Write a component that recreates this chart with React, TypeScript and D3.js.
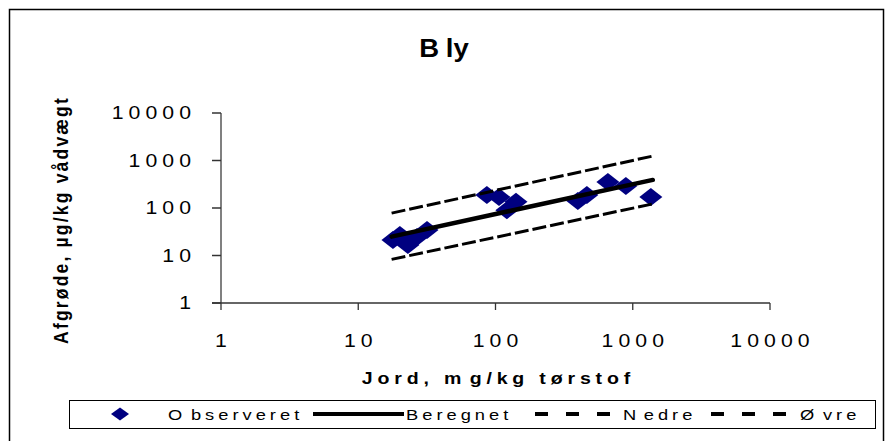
import React from "react";
import * as d3 from "d3";

// Observed lead concentrations: soil (mg/kg dry matter) vs. crop (µg/kg fresh weight)
const soilObserved = [17.9, 20.1, 23, 26.8, 31.7, 86.5, 106, 121, 141, 398, 463, 659, 891, 1355];
const cropObserved = [21.2, 27, 16.6, 24.5, 34.4, 188, 170, 90, 136, 140, 188, 353, 290, 170];

// Fitted relation and its lower/upper bounds
const soilFit = [17.5, 1400];
const cropCalculated = [25, 390];
const cropLower = [8.3, 122];
const cropUpper = [78, 1240];

const xTicks = [1, 10, 100, 1000, 10000];
const yTicks = [1, 10, 100, 1000, 10000];

const W = 893;
const H = 441;
const FONT = "'Liberation Sans', Arial, sans-serif";
const NAVY = "#000080";

type STextProps = {
  x: number;
  y: number;
  sx?: number;
  size: number;
  ls?: number;
  bold?: boolean;
  anchor?: "start" | "middle" | "end";
  dy?: string;
  children: React.ReactNode;
};

// Horizontally widened text, as the chart's lettering is drawn slightly stretched
function SText({ x, y, sx = 1.18, size, ls = 0, bold, anchor = "start", dy, children }: STextProps) {
  const shift = anchor === "middle" ? ls / 2 : anchor === "end" ? ls : 0;
  return (
    <text
      transform={`translate(${x},${y}) scale(${sx},1)`}
      x={shift}
      dy={dy}
      textAnchor={anchor}
      fontSize={size}
      fontWeight={bold ? "bold" : "normal"}
      style={{ letterSpacing: ls }}
    >
      {children}
    </text>
  );
}

export default function App() {
  const x = d3.scaleLog().domain([1, 10000]).range([221, 770]);
  const y = d3.scaleLog().domain([1, 10000]).range([303, 113]);

  const line = d3
    .line<[number, number]>()
    .x((d) => x(d[0]))
    .y((d) => y(d[1]));

  const pairs = (ys: number[]) => soilFit.map((v, i) => [v, ys[i]] as [number, number]);

  const diamond = (cx: number, cy: number, hw: number, hh: number) =>
    `M${cx},${cy - hh}L${cx + hw},${cy}L${cx},${cy + hh}L${cx - hw},${cy}Z`;

  const legendY = 414;
  const fmt = d3.format("d");

  return (
    <svg
      width={W}
      height={H}
      style={{ position: "fixed", left: 0, top: 0, background: "#fff" }}
      fontFamily={FONT}
    >
      {/* chart frame */}
      <rect x={9.5} y={9.5} width={874} height={445} fill="#fff" stroke="#000" strokeWidth={1.5} />

      {/* title */}
      <SText x={444} y={57} size={25} bold anchor="middle" sx={1.1}>
        <tspan>B</tspan>
        <tspan dx={6}>ly</tspan>
      </SText>

      {/* y axis */}
      <line x1={x(1)} x2={x(1)} y1={y(10000)} y2={y(1)} stroke="#808080" strokeWidth={2} />
      {yTicks.map((t) => (
        <g key={"yt" + t}>
          <line x1={x(1) - 9} x2={x(1)} y1={y(t)} y2={y(t)} stroke="#333" strokeWidth={1.5} />
          <SText x={191} y={y(t)} dy="0.36em" size={18} ls={4.3} anchor="end">
            {fmt(t)}
          </SText>
        </g>
      ))}

      {/* x axis */}
      <line x1={x(1) - 9} x2={x(10000)} y1={y(1)} y2={y(1)} stroke="#333" strokeWidth={1.3} />
      {xTicks.map((t) => (
        <g key={"xt" + t}>
          <line x1={x(t)} x2={x(t)} y1={y(1)} y2={y(1) + 7} stroke="#333" strokeWidth={1.3} />
          <SText x={x(t)} y={347} size={18} ls={4.3} anchor="middle">
            {fmt(t)}
          </SText>
        </g>
      ))}

      {/* axis titles */}
      <SText x={496} y={384} size={17} ls={4.2} bold anchor="middle" sx={1.15}>
        <tspan>Jord, m</tspan>
        <tspan dx={3}>g/kg tørstof</tspan>
      </SText>
      <text
        transform={`translate(68,220) rotate(-90) scale(1,1.2)`}
        textAnchor="middle"
        fontSize={17.5}
        fontWeight="bold"
        style={{ letterSpacing: 2.2 }}
      >
        Afgrøde, µg/kg vådvægt
      </text>

      {/* observed points */}
      {soilObserved.map((s, i) => (
        <path key={"p" + i} d={diamond(x(s), y(cropObserved[i]), 11.5, 9)} fill={NAVY} />
      ))}

      {/* calculated line and bounds */}
      <path d={line(pairs(cropLower)) || ""} fill="none" stroke="#000" strokeWidth={3} strokeDasharray="14,4" />
      <path d={line(pairs(cropUpper)) || ""} fill="none" stroke="#000" strokeWidth={3} strokeDasharray="14,4" />
      <path d={line(pairs(cropCalculated)) || ""} fill="none" stroke="#000" strokeWidth={4.5} strokeLinecap="round" />

      {/* legend */}
      <rect x={69.5} y={400.5} width={806} height={28} fill="#fff" stroke="#000" strokeWidth={1} />
      <path d={diamond(120, legendY, 9, 6.5)} fill={NAVY} />
      <SText x={168} y={legendY} dy="0.36em" size={15.5} ls={3.4}>
        <tspan>O</tspan>
        <tspan dx={4}>bserveret</tspan>
      </SText>
      <line x1={313} x2={404} y1={legendY} y2={legendY} stroke="#000" strokeWidth={4} />
      <SText x={406} y={legendY} dy="0.36em" size={15.5} ls={3.4}>
        Beregnet
      </SText>
      <line x1={535} x2={610} y1={legendY} y2={legendY} stroke="#000" strokeWidth={4} strokeDasharray="13,18" />
      <SText x={623} y={legendY} dy="0.36em" size={15.5} ls={3.4}>
        <tspan>N</tspan>
        <tspan dx={3}>edre</tspan>
      </SText>
      <line x1={711} x2={786} y1={legendY} y2={legendY} stroke="#000" strokeWidth={4} strokeDasharray="13,18" />
      <SText x={800} y={legendY} dy="0.36em" size={15.5} ls={3.4}>
        <tspan>Ø</tspan>
        <tspan dx={4}>vre</tspan>
      </SText>
    </svg>
  );
}
